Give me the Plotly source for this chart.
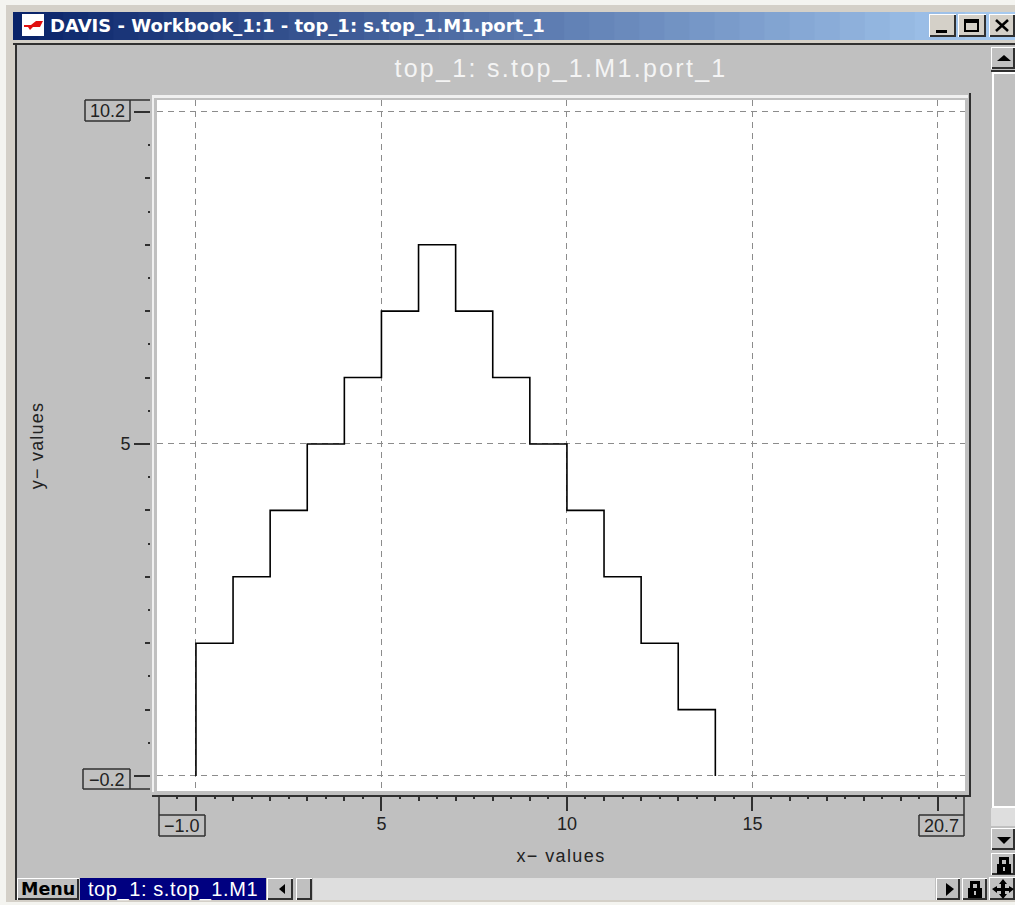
import json
import plotly.graph_objects as go

# ---- chart data ----
step_x = [0, 0, 1, 2, 3, 4, 5, 6, 7, 8, 9, 10, 11, 12, 13, 14, 14]
step_y = [0, 2, 3, 4, 5, 6, 7, 8, 7, 6, 5, 4, 3, 2, 1, 1, 0]
x_major = [0, 5, 10, 15, 20]
x_major_text = ["", "5", "10", "15", ""]
x_minor = [i for i in range(0, 21) if i % 5]
x_fine = [i + 0.5 for i in range(-1, 21)]
y_major = [0, 5, 10]
y_major_text = ["", "5", ""]
y_minor = [i for i in range(0, 11) if i % 5]
y_fine = [i + 0.5 for i in range(0, 10)]
x_range = [-1.05, 20.73]
y_range = [-0.226, 10.18]
title_text = "top_1: s.top_1.M1.port_1"
window_text = "DAVIS - Workbook_1:1 - top_1: s.top_1.M1.port_1"
tab_text = "top_1: s.top_1.M1"
x_title = "x\u2212 values"
y_title = "y\u2212 values"
range_labels = ["10.2", "\u22120.2", "\u22121.0", "20.7"]

W, H = 1015, 905
GRAY = "#c0c0c0"
FACE = "#d4d0c8"
DARK = "#303030"
FONT = "Liberation Sans"


def px(x):
    return x / W


def py(y):
    return 1 - y / H


shapes_below, shapes_above, notes = [], [], []


def rect(x0, y0, x1, y1, fill, target=shapes_below):
    target.append(dict(type="rect", xref="paper", yref="paper", x0=px(x0), x1=px(x1),
                       y0=py(y1), y1=py(y0), fillcolor=fill, line_width=0))


def seg(x0, y0, x1, y1, color=DARK, width=1.5, target=shapes_above):
    target.append(dict(type="line", xref="paper", yref="paper", x0=px(x0), x1=px(x1),
                       y0=py(y0), y1=py(y1), line=dict(color=color, width=width)))


def poly(points, fill, target=shapes_above):
    p = "M" + " L".join(f"{px(a):.5f},{py(b):.5f}" for a, b in points) + " Z"
    target.append(dict(type="path", xref="paper", yref="paper", path=p,
                       fillcolor=fill, line_width=0))


def text(x, y, s, size=15, color="#222222", family=FONT, anchor="center", **kw):
    notes.append(dict(xref="paper", yref="paper", x=px(x), y=py(y), text=s, showarrow=False,
                      xanchor=anchor, yanchor="middle",
                      font=dict(size=size, color=color, family=family), **kw))


def button(x0, y0, x1, y1):
    rect(x0, y0, x1, y1, "#ffffff")
    rect(x0 + 1, y0 + 1, x1, y1, DARK)
    rect(x0 + 1, y0 + 1, x1 - 2, y1 - 2, FACE if y1 < 45 else GRAY)


def lock(cx, cy):
    rect(cx - 7, cy - 1, cx + 7, cy + 9, "#000000", shapes_above)
    rect(cx - 1, cy + 2, cx + 1, cy + 6, GRAY, shapes_above)
    rect(cx - 5, cy - 8, cx + 5, cy - 1, "#000000", shapes_above)
    rect(cx - 2, cy - 5, cx + 2, cy - 1, GRAY, shapes_above)


# ---- window chrome ----
rect(0, 0, W, H, "#f4f4f0")
rect(6, 5, W, 902, FACE)
n = 40
for i in range(n):
    t = i / (n - 1)
    c = f"rgb({10 + 156 * t:.0f},{36 + 166 * t:.0f},{106 + 134 * t:.0f})"
    rect(13 + (W - 13) * i / n, 12, 13 + (W - 13) * (i + 1) / n + 1, 40, c)
rect(13, 43, W, 45, DARK)
rect(15, 45, 17, 900, DARK)
rect(17, 45, W, 900, GRAY)
rect(991, 45, W, 900, GRAY)

# title bar icon and buttons
rect(22, 14, 44, 36, "#ffffff")
poly([(24, 25), (31, 25), (36, 21), (43, 21), (40, 27), (33, 27), (30, 30), (28, 27), (24, 27)],
     "#e01010")
button(929, 14, 956, 37)
button(958, 14, 986, 37)
button(989, 14, W, 37)
rect(936, 30, 947, 33, "#000000", shapes_above)
rect(964, 19, 979, 32, "#000000", shapes_above)
rect(966, 23, 977, 30, FACE, shapes_above)
seg(996, 20, 1008, 31, "#000000", 2.5)
seg(1008, 20, 996, 31, "#000000", 2.5)

# right scroll bar
button(991, 47, W, 69)
poly([(997, 61), (1004, 55), (1011, 61)], "#000000")
rect(991, 70, W, 72, DARK)
rect(992, 72, W, 808, "#ffffff")
rect(994, 74, W, 806, GRAY)
rect(991, 808, W, 826, "#dedede")
button(991, 828, W, 850)
poly([(997, 837), (1011, 837), (1004, 844)], "#000000")
button(991, 853, W, 875)
lock(1004, 865)

# bottom bar
button(17, 878, 79, 900)
rect(80, 878, 266, 900, "#000080")
button(267, 878, 293, 900)
poly([(285, 884), (285, 894), (279, 889)], "#000000")
button(296, 878, 312, 900)
rect(313, 878, 935, 900, "#dedede")
button(936, 878, 960, 900)
poly([(946, 883), (946, 896), (954, 889)], "#000000")
button(962, 878, 987, 900)
lock(975, 889)
button(989, 877, W, 900)
poly([(1003, 879), (1007, 884), (1005, 884), (1005, 888), (1009, 888), (1009, 886), (1014, 889),
      (1009, 893), (1009, 891), (1005, 891), (1005, 894), (1007, 894), (1003, 899), (999, 894),
      (1001, 894), (1001, 891), (997, 891), (997, 893), (992, 889), (997, 886), (997, 888),
      (1001, 888), (1001, 884), (999, 884)], "#000000")

text(48, 26, f"<b>{window_text}</b>", 18, "#ffffff", "DejaVu Sans", "left")
text(48, 889, "<b>Menu</b>", 17.5, "#000000", "DejaVu Sans")
text(173, 889, tab_text, 20, "#ffffff")

# ---- plot frame around the white area ----
rect(157, 100, 965, 791, "#ffffff")
rect(152, 95, 971, 100, GRAY, shapes_above)
rect(152, 95, 968, 98, "#f0f0f0", shapes_above)
rect(152, 95, 154, 792, "#f0f0f0", shapes_above)
rect(154, 98, 157, 795, GRAY, shapes_above)
rect(157, 791, 969, 795, GRAY, shapes_above)
rect(965, 98, 969, 795, GRAY, shapes_above)
rect(969, 93, 971, 797, DARK, shapes_above)
rect(152, 795, 971, 797, DARK, shapes_above)

# range boxes with their leader lines
for (x0, y0, x1, y1), lab in zip([(85, 100, 130, 121), (83, 769, 130, 789),
                                  (159, 815, 205, 836), (919, 815, 964, 836)], range_labels):
    for a, b, c, d in [(x0, y0, x1, y0), (x0, y1, x1, y1), (x0, y0, x0, y1), (x1, y0, x1, y1)]:
        seg(a, b, c, d)
    text((x0 + x1) / 2, (y0 + y1) / 2 + 0.5, lab, 18)
seg(130, 100, 150, 100)
seg(130, 789, 150, 789)
seg(159, 797, 159, 815)
seg(964, 797, 964, 815)

# ---- the chart ----
fig = go.Figure()
fig.add_trace(go.Scatter(x=step_x, y=step_y, mode="lines",
                         line=dict(color="#000000", width=1.6, shape="hv"),
                         hoverinfo="skip", showlegend=False))
fig.add_trace(go.Scatter(x=[None], y=[None], xaxis="x2", yaxis="y2", showlegend=False,
                         hoverinfo="skip"))

grid = dict(showgrid=True, gridcolor="#8c8c8c", gridwidth=1.3, griddash="6px,5px", zeroline=False)
tick_font = dict(size=18, color="#222222", family=FONT)
x_domain = [px(157), px(965)]
y_domain = [py(791), py(100)]

fig.update_layout(
    width=W, height=H, margin=dict(l=0, r=0, t=0, b=0, pad=0), autosize=False,
    paper_bgcolor=GRAY, plot_bgcolor="rgba(0,0,0,0)", showlegend=False,
    title=dict(text=title_text, x=561 / W, y=py(68), xanchor="center", yanchor="middle",
               xref="paper", yref="paper",
               font=dict(size=25, color="#f4f4f4", family=FONT)),
    xaxis=dict(domain=x_domain, range=x_range, anchor="y", tickmode="array",
               tickvals=x_major, ticktext=x_major_text, ticks="outside", ticklen=15,
               tickwidth=1.5, tickcolor=DARK, tickfont=tick_font, showline=True, linewidth=5,
               linecolor=GRAY, ticklabelstandoff=-3,
               minor=dict(tickmode="array", tickvals=x_minor, ticks="outside", ticklen=5,
                          tickwidth=1.5, tickcolor=DARK, showgrid=False),
               title=dict(text=x_title, standoff=18, font=dict(size=18, color="#222222", family=FONT)),
               **grid),
    yaxis=dict(domain=y_domain, range=y_range, anchor="x", tickmode="array",
               tickvals=y_major, ticktext=y_major_text, ticks="outside", ticklen=16,
               tickwidth=1.5, tickcolor=DARK, tickfont=tick_font, showline=True, linewidth=7,
               linecolor=GRAY,
               minor=dict(tickmode="array", tickvals=y_minor, ticks="outside", ticklen=5,
                          tickwidth=1.5, tickcolor=DARK, showgrid=False),
               title=dict(text=y_title, standoff=75, font=dict(size=18, color="#222222", family=FONT)),
               **grid),
    xaxis2=dict(domain=x_domain, range=x_range, overlaying="x", anchor="y2", side="bottom",
                tickmode="array", tickvals=x_fine, ticktext=[""] * len(x_fine), ticks="outside",
                ticklen=2.5, tickwidth=1.5, tickcolor=DARK, showline=True, linewidth=5,
                linecolor=GRAY, showgrid=False, zeroline=False),
    yaxis2=dict(domain=y_domain, range=y_range, overlaying="y", anchor="x2", side="left",
                tickmode="array", tickvals=y_fine, ticktext=[""] * len(y_fine), ticks="outside",
                ticklen=2.5, tickwidth=1.5, tickcolor=DARK, showline=True, linewidth=7,
                linecolor=GRAY, showgrid=False, zeroline=False),
    shapes=shapes_below + [dict(s, layer="above") for s in shapes_above],
    annotations=notes,
)
for s in fig.layout.shapes[:len(shapes_below)]:
    s.layer = "below"

spacing = {title_text: "2.3px", tab_text: "0.6px", x_title: "1.4px", y_title: "1.2px"}
post = ("document.body.style.margin='0';document.body.style.overflow='hidden';"
        "var sp=" + json.dumps(spacing) + ";"
        "document.querySelectorAll('svg text').forEach(function(t){"
        "var v=sp[t.textContent];if(v){t.style.letterSpacing=v;}});")
fig.write_html("out.html", config=dict(displayModeBar=False), post_script=post)
